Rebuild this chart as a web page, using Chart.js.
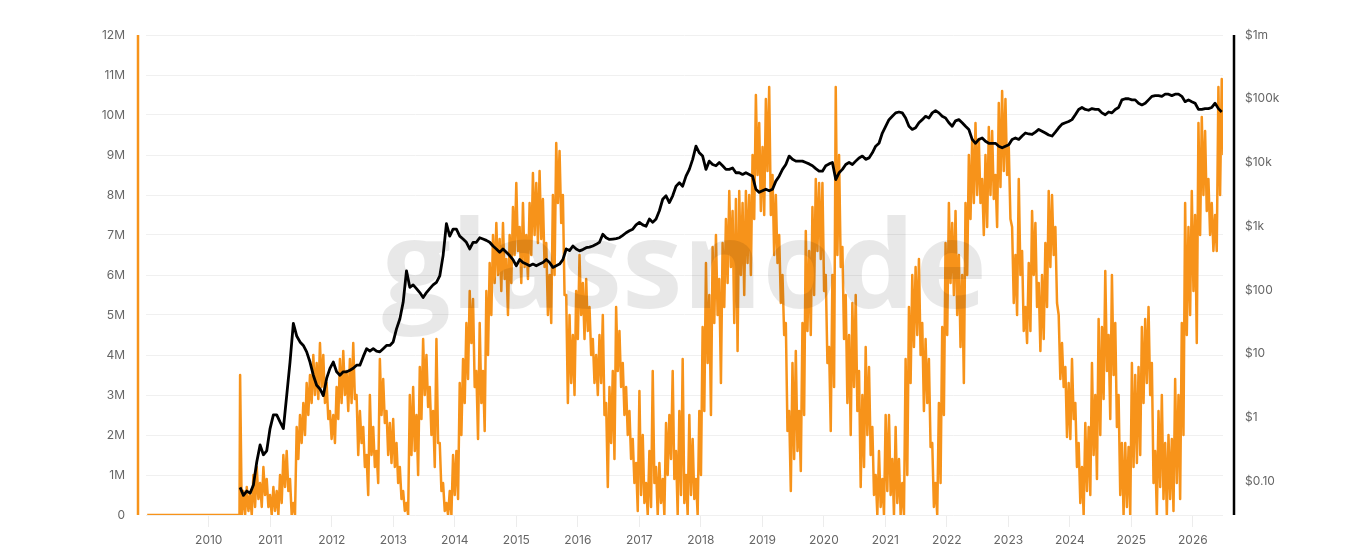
<!DOCTYPE html>
<html>
<head>
<meta charset="utf-8">
<script src="https://cdn.jsdelivr.net/npm/chart.js@4.4.1/dist/chart.umd.min.js"></script>
<style>
  html, body { margin: 0; padding: 0; background: #fff; }
</style>
</head>
<body>
<canvas id="chart" width="1370" height="550"></canvas>
<script>
// Sampling of both series (decimal years)
const seriesStart = 2010.51;
const seriesStep = 0.0541;      // ~20 days between samples

// Flat part before the first reading
const leadDates = [2009.0, 2010.5];
const leadValues = [0, 0];

// Orange metric, in millions: high and low of the band in each ~20 day window
const metricHigh2010 = [3.5, 0.6, 0.7, 0.5, 1.0, 1.2, 0.8, 1.2, 0.9, 0.5, 0.7, 0.6, 1.0, 1.5, 1.6, 0.9, 0.3, 2.2,
  2.5, 2.8, 3.3, 3.5, 4.0, 3.8, 4.3, 4.0, 3.3, 2.6, 2.5, 3.2, 3.9, 4.1, 3.6, 3.9, 4.3, 3.0];
const metricLow2010 = [0, 0, 0.1, 0, 0.2, 0.4, 0.2, 0.5, 0.2, 0, 0.1, 0, 0.3, 0.7, 0.6, 0, 0, 1.4,
  1.8, 2.0, 2.5, 2.8, 3.0, 2.9, 3.2, 2.8, 2.4, 1.9, 1.8, 2.4, 2.8, 3.0, 2.6, 2.8, 2.9, 1.5];

const metricHigh2012 = [2.6, 2.2, 1.5, 3.0, 2.2, 1.6, 3.9, 3.4, 2.6, 2.3, 2.4, 1.8, 1.2, 0.6, 0.3, 3.0, 3.2, 2.5,
  3.7, 4.4, 4.0, 3.2, 2.6, 4.4, 1.8, 0.8, 0.3, 0.6, 1.5, 1.6, 3.3, 3.9, 4.8, 5.6, 5.4, 3.6, 4.8, 3.6, 5.6, 6.3,
  7.0, 7.3, 6.9, 7.3, 6.4, 7.0, 7.7, 8.3, 7.2, 7.8, 7.0, 7.8, 8.55, 8.3, 8.6, 7.9, 6.8, 6.0, 8.0, 9.3,
  9.1, 8.0, 5.5, 5.0, 4.5, 5.6];
const metricLow2012 = [1.8, 1.2, 0.5, 1.5, 1.2, 0.8, 2.5, 2.3, 1.5, 1.3, 1.2, 0.8, 0.4, 0.1, 0, 1.5, 1.6, 1.0,
  2.4, 3.0, 2.7, 2.0, 1.2, 1.8, 0.6, 0.1, 0, 0, 0.5, 0.4, 2.0, 2.8, 3.4, 4.3, 3.2, 1.9, 2.8, 2.1, 4.0, 5.0,
  5.8, 6.0, 5.6, 5.9, 5.0, 5.8, 6.5, 6.6, 5.8, 6.2, 5.9, 6.5, 7.0, 6.8, 6.9, 6.2, 5.0, 4.8, 6.0, 7.8,
  7.3, 5.5, 2.8, 3.3, 3.0, 4.4];

const metricHigh2016 = [6.5, 5.8, 5.9, 5.2, 4.4, 4.0, 4.5, 5.0, 2.8, 3.2, 3.6, 5.2, 4.6, 3.8, 3.2, 2.6, 1.9, 1.3,
  3.1, 2.0, 0.8, 1.6, 3.6, 1.2, 1.3, 0.9, 2.3, 2.5, 3.6, 1.6, 2.6, 3.9, 1.0, 2.5, 1.9, 0.9, 2.6, 4.7, 6.3, 5.5,
  6.7, 7.0, 5.9, 6.8, 7.4, 8.1, 7.6, 7.9, 8.1, 7.8, 8.1, 8.0, 9.0, 10.5, 9.8, 9.2, 10.4, 10.7, 8.5, 8.0,
  7.0, 6.0, 4.8, 2.6, 3.8, 4.1];
const metricLow2016 = [5.0, 4.4, 4.6, 4.0, 3.3, 3.0, 3.3, 2.5, 0.7, 1.8, 1.4, 3.6, 3.2, 2.5, 2.0, 1.4, 0.8, 0.1,
  0.5, 0.3, 0, 0.2, 0.8, 0, 0.3, 0, 1.0, 1.4, 0.9, 0, 0.5, 0.3, 0, 0.5, 0.4, 0, 1.0, 2.6, 3.8, 2.5,
  4.8, 5.0, 3.3, 5.2, 5.8, 6.2, 4.8, 4.1, 6.0, 5.5, 6.3, 6.0, 7.4, 8.5, 7.6, 7.5, 8.6, 7.5, 6.5, 6.3,
  5.3, 4.5, 2.1, 0.6, 1.4, 1.6];

const metricHigh2019 = [2.6, 4.8, 7.1, 6.6, 7.7, 8.4, 8.3, 8.3, 6.0, 4.2, 6.0, 10.7, 9.0, 6.7, 5.5, 4.5, 5.3, 5.5,
  3.6, 3.0, 4.2, 3.7, 2.2, 1.0, 1.6, 0.9, 2.5, 2.5, 1.4, 2.2, 1.4, 0.8, 3.9, 5.2, 6.0, 6.2, 6.4, 4.8, 4.4, 3.9,
  1.8, 0.8, 2.8, 4.7, 6.8, 7.8, 7.3, 7.6, 6.5, 6.0, 7.8, 9.0, 9.4, 9.8, 9.4, 8.4, 9.0, 9.7, 9.6, 8.5,
  10.3, 10.6, 10.4, 9.2, 7.2, 6.5];
const metricLow2019 = [1.1, 2.5, 4.6, 4.5, 5.5, 6.6, 6.4, 5.6, 3.8, 2.1, 3.2, 6.5, 6.2, 4.4, 2.8, 2.0, 3.2, 2.6,
  0.7, 1.2, 2.0, 1.5, 0.5, 0, 0.2, 0, 0.6, 0.5, 0, 0.3, 0, 0, 1.0, 3.3, 4.2, 4.5, 4.0, 2.6, 2.8, 1.7,
  0.2, 0, 0.8, 2.5, 4.5, 5.8, 5.5, 5.0, 4.2, 3.3, 6.0, 7.4, 7.8, 8.0, 7.8, 7.0, 7.2, 8.0, 7.9, 7.2,
  8.2, 8.6, 8.5, 7.4, 5.3, 5.0];

const metricHigh2023 = [8.4, 6.6, 5.2, 6.3, 7.6, 7.3, 5.8, 6.0, 6.8, 8.1, 8.0, 7.2, 5.0, 4.3, 3.7, 3.3, 3.9, 2.8,
  1.8, 1.2, 2.3, 2.2, 3.8, 3.0, 4.9, 4.7, 6.1, 4.5, 6.0, 4.8, 3.0, 1.8, 1.8, 1.7, 3.8, 3.5, 3.7, 4.7, 4.9, 5.2,
  3.8, 1.6, 2.6, 3.0, 1.8, 2.0, 1.9, 3.4, 3.0, 4.8, 7.8, 7.2, 8.1, 7.5, 9.8, 9.95, 9.6, 8.4, 7.8, 7.5,
  10.7, 10.9];
const metricLow2023 = [6.0, 4.6, 4.3, 4.6, 6.0, 5.2, 4.1, 4.4, 5.2, 6.2, 6.5, 5.3, 3.4, 3.2, 1.95, 1.9, 2.4, 1.2,
  0.3, 0, 0.6, 0.5, 1.5, 0.9, 2.0, 2.9, 3.6, 2.4, 3.5, 2.2, 0.5, 0, 0.2, 0, 1.2, 1.3, 1.5, 2.8, 3.3, 3.0,
  0.8, 0, 0.7, 0.4, 0, 0.4, 0.1, 0.8, 0.4, 2.0, 4.5, 5.0, 5.6, 4.3, 7.0, 8.0, 7.6, 7.0, 6.6, 6.6,
  8.0, 9.0];

// Price in USD (log axis), same ~20 day sampling
const price2010 = [0.08, 0.06, 0.07, 0.065, 0.087, 0.2, 0.37, 0.26, 0.3, 0.67, 1.1, 1.1, 0.85, 0.67, 2.2, 7.4,
  30, 19, 15.3, 13.5, 10.7, 7.4, 4.6, 3.2, 2.8, 2.2, 4.1, 5.9, 7.4, 5.2, 4.6, 5.2, 5.2, 5.5, 5.9, 6.6];
const price2012 = [6.6, 9, 12, 11, 12, 11, 10.7, 12, 13.5, 13.5, 15.3, 24.5, 35, 64, 200, 110, 120, 105, 91, 76,
  91, 105, 120, 132, 166, 346, 1100, 700, 900, 900, 700, 630, 560, 440, 560, 560, 660, 630, 600, 560,
  490, 440, 390, 440, 390, 346, 300, 240, 300, 270, 255, 240, 255, 240, 255, 270, 300, 270, 226, 240,
  255, 300, 440, 415, 490, 440];
const price2016 = [410, 430, 460, 470, 490, 520, 560, 750, 660, 620, 630, 640, 660, 720, 790, 850, 900, 1050,
  1150, 1050, 1000, 1300, 1150, 1300, 1750, 2650, 3000, 2350, 3000, 4250, 4800, 4250, 6100, 7800, 11200,
  18000, 14200, 12600, 7800, 10500, 9300, 8900, 10000, 8900, 7800, 7800, 8200, 6900, 6900, 6500, 6900, 6500,
  6100, 3800, 3400, 3600, 3800, 3600, 3800, 5100, 6100, 7800, 9300, 12600, 11200, 10500];
const price2019 = [10500, 10500, 10000, 9500, 8900, 8000, 7300, 7300, 8900, 9500, 10000, 5400, 6900, 7800, 9300,
  10000, 9300, 10500, 11800, 12600, 11200, 11800, 14200, 18000, 20000, 29000, 37000, 47000, 53000, 60000,
  62000, 60000, 50000, 37000, 33000, 35000, 42000, 47000, 53000, 50000, 60000, 65000, 60000, 53000, 50000,
  42000, 37000, 45000, 47000, 42000, 37000, 33000, 23000, 20000, 23000, 24300, 21500, 20000, 20000, 20000,
  18000, 17000, 18000, 19000, 23000, 24300];
const price2023 = [23000, 26000, 29000, 28000, 27500, 30000, 33000, 31000, 29000, 27000, 26000, 30000, 35000,
  40000, 42000, 44000, 47000, 56000, 68000, 73000, 68000, 66000, 70000, 68000, 68000, 60000, 56000, 62000,
  60000, 68000, 73000, 96000, 100000, 100000, 96000, 96000, 85000, 80000, 85000, 96000, 109000, 112000,
  112000, 109000, 118000, 118000, 112000, 118000, 118000, 109000, 90000, 96000, 90000, 85000, 68000, 68000,
  70000, 70000, 73000, 85000, 70000, 62000];

// Axis ticks
const yearTicks = [2010, 2011, 2012, 2013, 2014, 2015, 2016, 2017, 2018, 2019, 2020, 2021, 2022, 2023, 2024, 2025, 2026];
const priceTickValues = [0.1, 1, 10, 100, 1000, 10000, 100000, 1000000];
const priceTickLabels = ['$0.10', '$1', '$10', '$100', '$1k', '$10k', '$100k', '$1m'];

const ORANGE = '#f7931a';

// Build point lists: each window gives its high, then its low half a step later
const metricHigh = [].concat(metricHigh2010, metricHigh2012, metricHigh2016, metricHigh2019, metricHigh2023);
const metricLow = [].concat(metricLow2010, metricLow2012, metricLow2016, metricLow2019, metricLow2023);
const metricPoints = leadDates.map((d, i) => ({ x: d, y: leadValues[i] }));
metricHigh.forEach((hi, i) => {
  const t = seriesStart + i * seriesStep;
  metricPoints.push({ x: t, y: hi });
  metricPoints.push({ x: t + seriesStep / 2, y: metricLow[i] });
});

const priceValues = [].concat(price2010, price2012, price2016, price2019, price2023);
const pricePoints = priceValues.map((v, i) => ({ x: seriesStart + i * seriesStep, y: v }));

// Side axis lines and the watermark
const decorPlugin = {
  id: 'decor',
  afterDatasetsDraw(chart) {
    const { ctx, chartArea } = chart;
    ctx.save();
    ctx.font = 'bold 120px "Open Sans"';
    const w = ctx.measureText('glassnode').width;
    const size = 120 * 605 / w;
    ctx.font = 'bold ' + size + 'px "Open Sans"';
    ctx.fillStyle = 'rgba(0,0,0,0.09)';
    ctx.textAlign = 'center';
    ctx.textBaseline = 'alphabetic';
    ctx.fillText('glassnode', (chartArea.left + chartArea.right) / 2, 308);
    ctx.restore();
  },
  afterDraw(chart) {
    const { ctx, chartArea } = chart;
    ctx.save();
    ctx.lineWidth = 2.5;
    ctx.strokeStyle = ORANGE;
    ctx.beginPath();
    ctx.moveTo(chartArea.left - 8, chartArea.top);
    ctx.lineTo(chartArea.left - 8, chartArea.bottom);
    ctx.stroke();
    ctx.strokeStyle = '#000';
    ctx.beginPath();
    ctx.moveTo(chartArea.right + 11, chartArea.top);
    ctx.lineTo(chartArea.right + 11, chartArea.bottom);
    ctx.stroke();
    ctx.restore();
  }
};

Chart.defaults.font.family = 'Inter, "Liberation Sans", sans-serif';
Chart.defaults.font.size = 12;
Chart.defaults.color = '#666';

new Chart(document.getElementById('chart'), {
  type: 'line',
  data: {
    datasets: [
      {
        label: 'Price',
        data: pricePoints,
        yAxisID: 'yPrice',
        borderColor: '#000',
        borderWidth: 2.8,
        pointRadius: 0,
        borderJoinStyle: 'round',
        tension: 0
      },
      {
        label: 'Metric',
        data: metricPoints,
        yAxisID: 'yMetric',
        borderColor: ORANGE,
        borderWidth: 2.5,
        pointRadius: 0,
        borderJoinStyle: 'round',
        tension: 0
      }
    ]
  },
  options: {
    responsive: false,
    animation: false,
    layout: { padding: { top: 35, left: 0, right: 0, bottom: 0 } },
    plugins: {
      legend: { display: false },
      tooltip: { enabled: false }
    },
    scales: {
      x: {
        type: 'linear',
        min: 2008.98,
        max: 2026.49,
        afterBuildTicks: (scale) => { scale.ticks = yearTicks.map(v => ({ value: v })); },
        afterFit: (scale) => { scale.height = 35; },
        ticks: { callback: (v) => String(v), padding: 6, maxRotation: 0, autoSkip: false },
        grid: { drawOnChartArea: false, drawTicks: true, tickLength: 12, color: '#ececec' },
        border: { display: false }
      },
      yMetric: {
        position: 'left',
        min: 0,
        max: 12,
        afterFit: (scale) => { scale.width = 146; },
        ticks: {
          stepSize: 1,
          padding: 21,
          callback: (v) => (v === 0 ? '0' : v + 'M')
        },
        grid: { color: '#f0f0f0', drawTicks: false },
        border: { display: false }
      },
      yPrice: {
        type: 'logarithmic',
        position: 'right',
        min: 0.0295,
        max: 1000000,
        afterBuildTicks: (scale) => { scale.ticks = priceTickValues.map(v => ({ value: v })); },
        afterFit: (scale) => { scale.width = 147; },
        ticks: {
          padding: 22,
          callback: (v) => {
            const i = priceTickValues.indexOf(v);
            return i >= 0 ? priceTickLabels[i] : '';
          }
        },
        grid: { display: false, drawTicks: false },
        border: { display: false }
      }
    }
  },
  plugins: [decorPlugin]
});
</script>
</body>
</html>
